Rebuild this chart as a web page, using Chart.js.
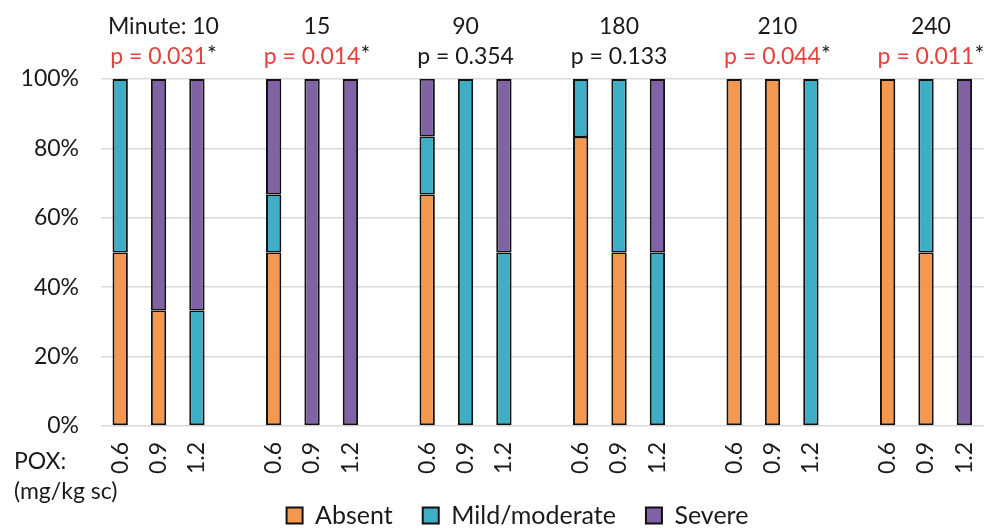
<!DOCTYPE html>
<html>
<head>
<meta charset="utf-8">
<script src="https://cdn.jsdelivr.net/npm/chart.js@4/dist/chart.umd.min.js"></script>
<style>
  body{margin:0;background:#fff;}
  #wrap{width:1000px;height:528px;position:relative;}
</style>
</head>
<body>
<div id="wrap"><canvas id="chart" width="1000" height="528"></canvas></div>
<script>
// dose groups (mg/kg sc), blank slot between time points
const categories=["0.6","0.9","1.2","", "0.6","0.9","1.2","", "0.6","0.9","1.2","",
                  "0.6","0.9","1.2","", "0.6","0.9","1.2","", "0.6","0.9","1.2"];
const absent=[50,33.3,0,null, 50,0,0,null, 66.7,0,0,null, 83.3,50,0,null, 100,100,0,null, 100,50,0];
const mild  =[50,0,33.3,null, 16.7,0,0,null, 16.7,100,50,null, 16.7,50,50,null, 0,0,100,null, 0,50,0];
const severe=[0,66.7,66.7,null, 33.3,100,100,null, 16.7,0,50,null, 0,0,50,null, 0,0,0,null, 0,0,100];

const minutes=["10","15","90","180","210","240"];
const pValues=["0.031","0.014","0.354","0.133","0.044","0.011"];
const significant=[true,true,false,false,true,true];
const groupMid=[1,5,9,13,17,21];
const yTicks=[0,20,40,60,80,100];

const FONT="Lato";
const TXT="#1a1a1a";
const RED="#e8413c";
const stacks=[absent,mild,severe];

const headerPlugin={
    id:"headers",
    afterLayout(chart){
        // legend sits a bit higher and right of where chart.js puts it
        const lg=chart.legend;
        if(lg){lg.left+=18;lg.right+=18;lg.top-=9;lg.bottom-=9;}
    },
    afterDraw(chart){
        const c=chart.ctx;
        const x=chart.scales.x;
        c.save();
        c.font="23px "+FONT;
        c.textBaseline="middle";
        c.textAlign="left";
        groupMid.forEach((idx,i)=>{
            const cx=x.getPixelForValue(idx);
            const pTxt="p = "+pValues[i];
            const w=c.measureText(pTxt).width;
            const star=significant[i]?"*":"";
            const sw=star?c.measureText(star).width:0;
            const left=cx-w/2;
            c.fillStyle=significant[i]?RED:TXT;
            c.fillText(pTxt,left,57);
            if(star){c.fillStyle=TXT;c.fillText(star,left+w,55);}
            const mTxt=(i===0?"Minute: ":"")+minutes[i];
            const mw=c.measureText(mTxt).width;
            c.fillStyle=TXT;
            c.fillText(mTxt,left+(w+sw)/2-mw/2,27);
        });
        c.fillText("POX:",14,462);
        c.fillText("(mg/kg sc)",14,492);
        c.restore();
    }
};

// segment joins: each side of a join gets part of the dark line
function bw(ctx){
    const i=ctx.dataIndex,d=ctx.datasetIndex;
    if(!stacks[d][i]) return 0;
    const below=stacks.slice(0,d).some(s=>s[i]>0);
    const above=stacks.slice(d+1).some(s=>s[i]>0);
    return {left:2,right:2,top:above?1.5:2,bottom:below?1.5:2};
}

const ctx=document.getElementById("chart").getContext("2d");
new Chart(ctx,{
    type:"bar",
    data:{
        labels:categories,
        datasets:[
            {label:"Absent",data:absent,backgroundColor:"#f3984e"},
            {label:"Mild/moderate",data:mild,backgroundColor:"#3eadc6"},
            {label:"Severe",data:severe,backgroundColor:"#7f63a5"}
        ]
    },
    options:{
        responsive:false,
        animation:false,
        layout:{padding:{top:79,right:1,left:0,bottom:-19}},
        datasets:{bar:{categoryPercentage:1,barPercentage:0.4,borderColor:"#111",borderWidth:bw,borderSkipped:false}},
        scales:{
            x:{
                stacked:true,
                grid:{display:false},
                border:{display:false},
                ticks:{color:TXT,font:{family:FONT,size:23},minRotation:90,maxRotation:90,padding:8,autoSkip:false},
                afterFit:s=>{s.height=56;}
            },
            y:{
                stacked:true,
                min:0,max:100,
                afterBuildTicks:s=>{s.ticks=yTicks.map(v=>({value:v}));},
                grid:{color:"#d9d9d9",lineWidth:1.5,drawTicks:false},
                border:{display:false},
                ticks:{color:TXT,font:{family:FONT,size:23},padding:22,callback:v=>v+"%"},
                afterFit:s=>{s.width=101;}
            }
        },
        plugins:{
            legend:{
                position:"bottom",
                labels:{
                    color:TXT,
                    font:{family:FONT,size:25},
                    boxWidth:16,boxHeight:16,padding:30,
                    generateLabels:chart=>Chart.defaults.plugins.legend.labels.generateLabels(chart)
                        .map(l=>({...l,lineWidth:2,strokeStyle:"#111"}))
                }
            },
            tooltip:{enabled:false}
        }
    },
    plugins:[headerPlugin]
});
</script>
</body>
</html>
